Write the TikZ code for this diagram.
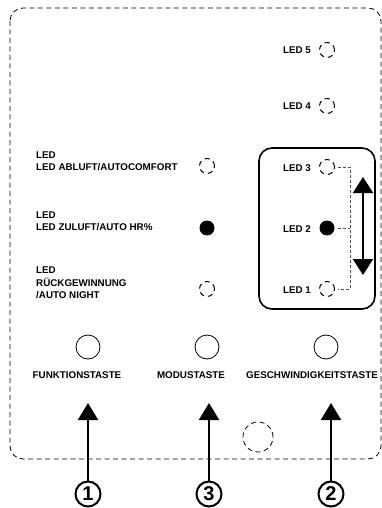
\documentclass[tikz,border=0pt]{standalone}
\usepackage{fontspec}
\setmainfont{Liberation Sans}
\usetikzlibrary{arrows.meta}
\begin{document}
\begin{tikzpicture}[x=1pt,y=-1pt,
  lbl/.style={font=\bfseries\fontsize{9.8}{12.5}\selectfont, inner sep=0pt},
  ledoff/.style={circle, draw, dashed, dash pattern=on 5pt off 4pt, line width=1pt, minimum size=15pt, inner sep=0pt},
  ledon/.style={circle, fill=black, minimum size=15pt, inner sep=0pt},
  btn/.style={circle, draw, line width=0.8pt, minimum size=24pt, inner sep=0pt},
  numc/.style={circle, draw, line width=2pt, minimum size=25pt, inner sep=0pt, font=\bfseries\fontsize{20}{20}\selectfont},
  upar/.style={line width=2pt, -{Triangle[width=20pt,length=17pt]}},
  conn/.style={draw=black!70, dashed, dash pattern=on 3pt off 2pt, line width=0.7pt}
]
\useasboundingbox (0,0) rectangle (382,508);
% outer housing
\draw[dashed, dash pattern=on 5pt off 3.5pt, line width=0.8pt, rounded corners=13pt] (10,8) rectangle (381,459);

% top LEDs
\node[ledoff] (l5) at (327,50) {};
\node[lbl, anchor=east] (t5) at (311,50) {LED 5};
\node[ledoff] (l4) at (327,106) {};
\node[lbl, anchor=east] (t4) at (311,106) {LED 4};

% left column LEDs
\node[ledoff] (la) at (207,166) {};
\node[lbl, anchor=west, align=left] (ta) at (36,161) {LED\\LED ABLUFT/AUTOCOMFORT};
\node[ledon] (lz) at (207,228) {};
\node[lbl, anchor=west, align=left] (tz) at (36,221) {LED\\LED ZULUFT/AUTO HR\%};
\node[ledoff] (lr) at (207,289) {};
\node[lbl, anchor=west, align=left] (tr) at (36,283) {LED\\RÜCKGEWINNUNG\\/AUTO NIGHT};

% speed box
\draw[line width=1.6pt, rounded corners=13pt] (259,148) rectangle (375,309);
\node[ledoff] (l3) at (327,167) {};
\node[lbl, anchor=east] (t3) at (311,168) {LED 3};
\node[ledon] (l2) at (327,228) {};
\node[lbl, anchor=east] (t2) at (311,229) {LED 2};
\node[ledoff] (l1) at (327,289) {};
\node[lbl, anchor=east] (t1) at (311,290) {LED 1};
\coordinate (c3) at (350,167);
\coordinate (c2) at (350,228);
\coordinate (c1) at (350,289);
\draw[conn] ([xshift=3pt]l3.east) -- (c3) -- (c1) -- ([xshift=3pt]l1.east);
\draw[conn] ([xshift=3pt]l2.east) -- (c2);
\coordinate (at) at (363,177);
\coordinate (ab) at (363,275);
\draw[line width=2pt, {Triangle[width=20pt,length=16pt]}-{Triangle[width=20pt,length=16pt]}] (at) -- (ab);

% buttons
\node[btn] (b1) at (88,347) {};
\node[btn] (b3) at (207,347) {};
\node[btn] (b2) at (326,347) {};
\node[lbl] (k1) at (77,375) {FUNKTIONSTASTE};
\node[lbl] (k3) at (191,375) {MODUSTASTE};
\node[lbl] (k2) at (312,375) {GESCHWINDIGKEITSTASTE};

% sensor
\node[circle, draw, dashed, dash pattern=on 5pt off 3.5pt, line width=0.8pt, minimum size=30pt, inner sep=0pt] (sen) at (258,437) {};

% numbers and arrows
\node[numc] (n1) at (88,494) {1};
\node[numc] (n3) at (209,494) {3};
\node[numc] (n2) at (331,494) {2};
\coordinate (p1) at (88,403);
\coordinate (p3) at (209,403);
\coordinate (p2) at (331,403);
\draw[upar] (n1.north) -- (p1);
\draw[upar] (n3.north) -- (p3);
\draw[upar] (n2.north) -- (p2);
\end{tikzpicture}
\end{document}
